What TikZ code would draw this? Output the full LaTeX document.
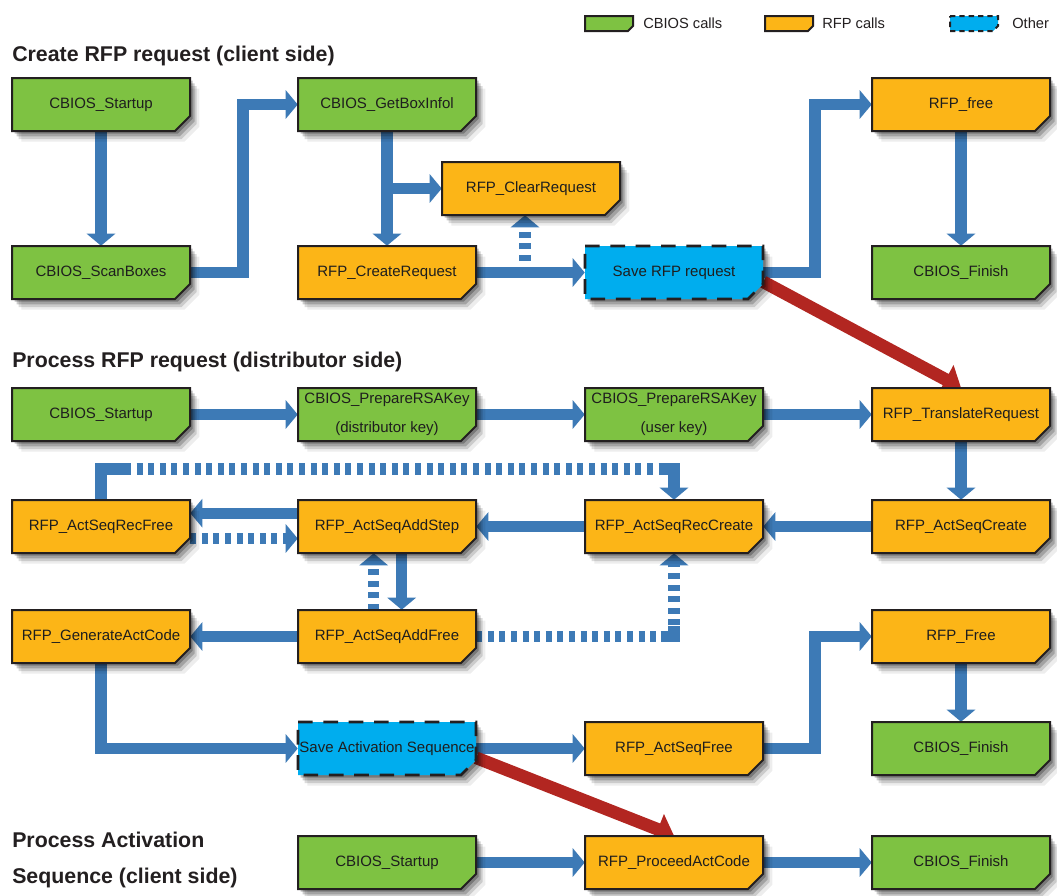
\documentclass[tikz,border=0pt]{standalone}
\usepackage{fontspec}
\setmainfont{Liberation Sans}
\usetikzlibrary{arrows.meta,shadows}
\definecolor{cbgreen}{RGB}{126,194,66}
\definecolor{rfporange}{RGB}{252,181,23}
\definecolor{othblue}{RGB}{0,173,238}
\definecolor{arrblue}{RGB}{61,122,182}
\definecolor{arrred}{RGB}{178,38,33}
\definecolor{edgedark}{RGB}{35,31,32}
\definecolor{txtdark}{RGB}{30,30,30}
\pgfdeclarelayer{bottom}
\pgfdeclarelayer{wires}
\pgfsetlayers{bottom,wires,main}
\tikzset{
 softshadow/.style={drop shadow={shadow xshift=2pt,shadow yshift=-2pt,opacity=0.25,fill=black},
   drop shadow={shadow xshift=3.5pt,shadow yshift=-4pt,opacity=0.2,fill=black},
   drop shadow={shadow xshift=5pt,shadow yshift=-6pt,opacity=0.14,fill=black},
   drop shadow={shadow xshift=7pt,shadow yshift=-8pt,opacity=0.07,fill=black}},
 greenbox/.style={fill=cbgreen,draw=edgedark,line width=1.5pt,softshadow},
 orangebox/.style={fill=rfporange,draw=edgedark,line width=1.5pt,softshadow},
 bluebox/.style={fill=othblue,draw=edgedark,line width=1.9pt,dash pattern=on 11pt off 8pt,softshadow},
 boxlabel/.style={rectangle,inner sep=0pt,minimum width=133.5pt,minimum height=39.75pt,align=center,text=txtdark,font=\fontsize{11.25pt}{21.5pt}\selectfont},
 flow/.style={draw=arrblue,line width=8.5pt,-{Triangle[length=9pt,width=21pt]}},
 flowline/.style={draw=arrblue,line width=8.5pt},
 dashedflow/.style={flow,dash pattern=on 4.5pt off 4.2pt},
 dashedline/.style={flowline,dash pattern=on 4.5pt off 4.2pt},
 whitetip/.style={preaction={draw=white,-{Triangle[length=11pt,width=25pt]}}},
 redflow/.style={draw=arrred,line width=9.5pt,-{Triangle[length=13pt,width=24pt]},
   preaction={draw=white,-{Triangle[length=15pt,width=28pt]}}},
 heading/.style={anchor=base west,inner sep=0pt,text=edgedark,font=\bfseries\fontsize{16pt}{19pt}\selectfont},
 legendtext/.style={anchor=west,inner sep=0pt,text=edgedark,font=\fontsize{11pt}{13pt}\selectfont},
}
\newcommand\flowbox[5]{%
  \path[#1] (#3,#4) -- ++(178,0) -- ++(0,38) -- ++(-15,15) -- ++(-163,0) -- cycle;
  \node[boxlabel] (#2) at ({#3+89},{#4+26.5}) {#5};}
\begin{document}
\begin{tikzpicture}[x=0.75pt,y=-0.75pt]
\begin{pgfonlayer}{bottom}
\fill[white] (0,0) rectangle (1057,896);
\end{pgfonlayer}
\useasboundingbox (0,0) rectangle (1057,896);

% legend
\path[fill=cbgreen,draw=edgedark,line width=1.5pt] (585,16) -- (633,16) -- (633,26) -- (628,31) -- (585,31) -- cycle;
\node[legendtext] (lg1) at (643,23.5) {CBIOS calls};
\path[fill=rfporange,draw=edgedark,line width=1.5pt] (765,16) -- (813,16) -- (813,26) -- (808,31) -- (765,31) -- cycle;
\node[legendtext] (lg2) at (822,23.5) {RFP calls};
\path[fill=othblue,draw=edgedark,line width=1.5pt,dash pattern=on 4pt off 3pt] (950,16) -- (998,16) -- (998,26) -- (993,31) -- (950,31) -- cycle;
\node[legendtext] (lg3) at (1012,23.5) {Other};

% headings
\node[heading] (h1) at (12,61) {Create RFP request (client side)};
\node[heading] (h2) at (12,367) {Process RFP request (distributor side)};
\node[heading] (h3a) at (12,847) {Process Activation};
\node[heading] (h3b) at (12,883) {Sequence (client side)};

% section 1
\flowbox{greenbox}{s1st}{12}{78}{CBIOS\_Startup}
\flowbox{greenbox}{s1scan}{12}{246}{CBIOS\_ScanBoxes}
\flowbox{greenbox}{getbox}{298}{78}{CBIOS\_GetBoxInfol}
\flowbox{orangebox}{clear}{442}{162}{RFP\_ClearRequest}
\flowbox{orangebox}{create}{298}{246}{RFP\_CreateRequest}
\flowbox{bluebox}{save1}{585}{246}{Save RFP request}
\flowbox{orangebox}{rfpfree}{872}{78}{RFP\_free}
\flowbox{greenbox}{fin1}{872}{246}{CBIOS\_Finish}

% section 2
\flowbox{greenbox}{s2st}{12}{388}{CBIOS\_Startup}
\flowbox{greenbox}{rsa1}{298}{388}{CBIOS\_PrepareRSAKey\\(distributor key)}
\flowbox{greenbox}{rsa2}{585}{388}{CBIOS\_PrepareRSAKey\\(user key)}
\flowbox{orangebox}{transl}{872}{388}{RFP\_TranslateRequest}
\flowbox{orangebox}{recfree}{12}{500}{RFP\_ActSeqRecFree}
\flowbox{orangebox}{addstep}{298}{500}{RFP\_ActSeqAddStep}
\flowbox{orangebox}{reccreate}{585}{500}{RFP\_ActSeqRecCreate}
\flowbox{orangebox}{actcreate}{872}{500}{RFP\_ActSeqCreate}
\flowbox{orangebox}{genact}{12}{610}{RFP\_GenerateActCode}
\flowbox{orangebox}{addfree}{298}{610}{RFP\_ActSeqAddFree}
\flowbox{orangebox}{rfpfree2}{872}{610}{RFP\_Free}
\flowbox{bluebox}{save2}{298}{722}{Save Activation Sequence}
\flowbox{orangebox}{actfree}{585}{722}{RFP\_ActSeqFree}
\flowbox{greenbox}{fin2}{872}{722}{CBIOS\_Finish}

% section 3
\flowbox{greenbox}{s3st}{298}{836}{CBIOS\_Startup}
\flowbox{orangebox}{proceed}{585}{836}{RFP\_ProceedActCode}
\flowbox{greenbox}{fin3}{872}{836}{CBIOS\_Finish}

\coordinate (k1) at (243,0);
\coordinate (k2) at (815,0);
\coordinate (cd) at ([xshift=-4.5pt]clear.south);
\coordinate (la) at (125,469);
\coordinate (lb) at (660,469);
\coordinate (c2) at (reccreate.south |- addfree.east);

\begin{pgfonlayer}{wires}
\draw[flow] (s1st.south) -- (s1scan.north);
\draw[flow] (s1scan.east) -| (k1 |- getbox.west) -- (getbox.west);
\draw[flow] (getbox.south) -- (create.north);
\draw[flow] (getbox.south |- clear.west) -- (clear.west);
\draw[flow] (create.east) -- (save1.west);
\draw[dashedflow,whitetip] (cd |- create.east) -- (cd);
\draw[flow] (save1.east) -| (k2 |- rfpfree.west) -- (rfpfree.west);
\draw[flow] (rfpfree.south) -- (fin1.north);
\draw[redflow] ([yshift=-7pt]save1.east) -- (transl.north);

\draw[flow] (s2st.east) -- (rsa1.west);
\draw[flow] (rsa1.east) -- (rsa2.west);
\draw[flow] (rsa2.east) -- (transl.west);
\draw[flow] (transl.south) -- (actcreate.north);
\draw[flow,whitetip] (actcreate.west) -- (reccreate.east);
\draw[flow,whitetip] (reccreate.west) -- (addstep.east);
\draw[flow,whitetip] ([yshift=10pt]addstep.west) -- ([yshift=10pt]recfree.east);
\draw[dashedflow] ([yshift=-9pt]recfree.east) -- ([yshift=-9pt]addstep.west);
\draw[flowline] (recfree.north) |- (la);
\draw[dashedline] (la) -- (lb);
\draw[flow] (lb) -| (reccreate.north);
\draw[flow] ([xshift=11pt]addstep.south) -- ([xshift=11pt]addfree.north);
\draw[dashedflow,whitetip] ([xshift=-10pt]addfree.north) -- ([xshift=-10pt]addstep.south);
\draw[flow,whitetip] (addfree.west) -- (genact.east);
\draw[dashedflow,whitetip] (addfree.east) -| (reccreate.south);
\draw[flowline] ([xshift=-10pt]c2) -- (c2) -- ([yshift=8pt]c2);
\draw[flow] (genact.south) |- (save2.west);
\draw[flow] (save2.east) -- (actfree.west);
\draw[flow] (actfree.east) -| (k2 |- rfpfree2.west) -- (rfpfree2.west);
\draw[flow] (rfpfree2.south) -- (fin2.north);
\draw[redflow] ([yshift=-7pt]save2.east) -- (proceed.north);
\draw[flow] (s3st.east) -- (proceed.west);
\draw[flow] (proceed.east) -- (fin3.west);
\end{pgfonlayer}
\end{tikzpicture}
\end{document}
